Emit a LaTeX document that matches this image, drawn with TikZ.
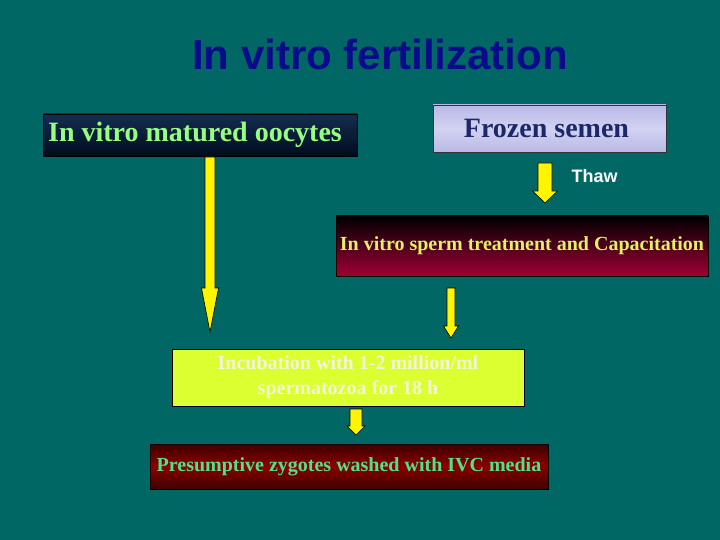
\documentclass[tikz,border=0pt]{standalone}
\usepackage{fontspec}
\setmainfont{Liberation Serif}
\newfontfamily\sansb{Liberation Sans}
\usetikzlibrary{calc}
\definecolor{bgteal}{RGB}{0,103,100}
\definecolor{titleblue}{RGB}{10,10,140}
\definecolor{navyA}{RGB}{20,45,80}
\definecolor{navyB}{RGB}{0,12,30}
\definecolor{lightgreen}{RGB}{150,255,130}
\definecolor{lavA}{RGB}{210,210,242}
\definecolor{lavB}{RGB}{185,185,230}
\definecolor{frozentext}{RGB}{28,40,105}
\definecolor{crimson}{RGB}{160,0,55}
\definecolor{paleyellow}{RGB}{230,240,100}
\definecolor{lime}{RGB}{220,255,50}
\definecolor{incubtext}{RGB}{245,245,215}
\definecolor{darkred}{RGB}{140,0,0}
\definecolor{darkredB}{RGB}{60,0,0}
\definecolor{mintgreen}{RGB}{80,225,140}
\definecolor{arrowyellow}{RGB}{255,245,0}
\tikzset{
  box/.style={draw=black, line width=0.8pt, inner sep=2pt, align=center, font=\bfseries},
  yarr/.style={fill=arrowyellow, draw=black, line width=0.6pt, line join=miter},
}
\newcommand\yarrow[5]{%
  \filldraw[yarr] let \p1=(#1), \p2=(#2) in
   (\x1-#3,\y1) -- (\x1+#3,\y1) -- (\x1+#3,\y2+#5) -- (\x1+#4,\y2+#5) --
   (\x1,\y2) -- (\x1-#4,\y2+#5) -- (\x1-#3,\y2+#5) -- cycle;}
\begin{document}
\begin{tikzpicture}[x=1pt,y=-1pt]
\fill[bgteal] (0,0) rectangle (720,540);
\useasboundingbox (0,0) rectangle (720,540);

\node[font=\sansb\bfseries\fontsize{42}{46}\selectfont, text=titleblue] (title) at (380,54) {In vitro fertilization};

\node[box, minimum width=314pt, minimum height=42pt, top color=navyA, bottom color=navyB,
  text=lightgreen, font=\bfseries\fontsize{28}{30}\selectfont] (oocytes) at (200,135) {\raisebox{-2pt}{In vitro matured oocytes}\hspace*{10pt}};

\node[box, draw=black!80, minimum width=233pt, minimum height=47pt, top color=lavB, bottom color=lavB, middle color=lavA,
  text=frozentext, font=\bfseries\fontsize{28}{30}\selectfont] (frozen) at (549.5,128.5) {Frozen semen\hspace*{6pt}};

\node[text=white, font=\sansb\bfseries\fontsize{18}{20}\selectfont] (thaw) at (594.5,176) {Thaw};

\node[box, minimum width=372pt, minimum height=60pt, top color=black, bottom color=crimson,
  text=paleyellow, font=\bfseries\fontsize{20}{22}\selectfont] (treat) at (522,246) {\raisebox{-2.5pt}{In vitro sperm treatment and Capacitation}};

\node[box, minimum width=352pt, minimum height=57pt, fill=lime,
  text=incubtext, font=\bfseries\fontsize{20}{24}\selectfont] (incub) at (348,377.5) {\raisebox{-4pt}{\begin{tabular}{@{}c@{}}Incubation with 1-2 million/ml\\[1pt]spermatozoa for 18 h\end{tabular}}};

\node[box, minimum width=398pt, minimum height=45pt, top color=darkredB, bottom color=darkredB, middle color=darkred,
  text=mintgreen, font=\bfseries\fontsize{20}{22}\selectfont] (zyg) at (349,466.5) {\raisebox{-2pt}{Presumptive zygotes washed with IVC media}};

\coordinate (a1s) at (210,157);
\coordinate (a1e) at (210,332);
\coordinate (a2s) at (545,163);
\coordinate (a2e) at (545,203);
\coordinate (a3s) at (451,288);
\coordinate (a3e) at (451,338);
\coordinate (a4s) at (356,409);
\coordinate (a4e) at (356,435);

\yarrow{a1s}{a1e}{5pt}{8.5pt}{44pt}
\yarrow{a2s}{a2e}{7pt}{12.5pt}{12pt}
\yarrow{a3s}{a3e}{4pt}{7.5pt}{12pt}
\yarrow{a4s}{a4e}{6pt}{9pt}{9pt}
\end{tikzpicture}
\end{document}
